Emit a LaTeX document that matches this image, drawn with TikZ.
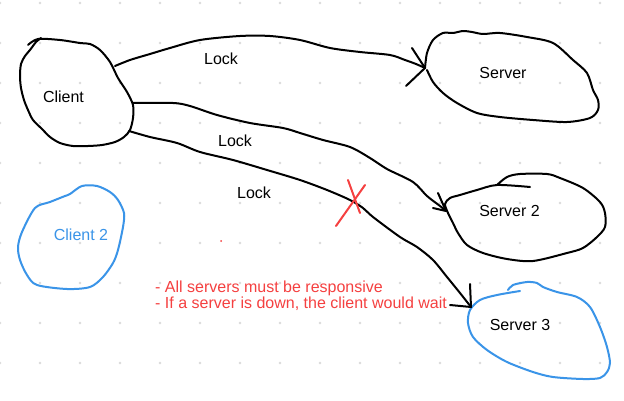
\documentclass[tikz,border=0pt]{standalone}
\usepackage{fontspec}
\setmainfont{Liberation Sans}
\definecolor{inkblue}{RGB}{58,148,232}
\definecolor{inkred}{RGB}{245,64,64}
\definecolor{gridgray}{RGB}{218,218,218}
\tikzset{
  ink/.style={line width=2pt, line cap=round, line join=round},
  blob/.style={ink, draw=black},
  bluebl/.style={ink, draw=inkblue},
  lbl/.style={font=\fontsize{16}{18}\selectfont, inner sep=0pt},
  note/.style={font=\fontsize{16}{16}\selectfont, text=inkred, inner sep=0pt, anchor=base west},
}
\begin{document}
\begin{tikzpicture}[x=1pt,y=-1pt]
\useasboundingbox (0,0) rectangle (624,401);
\fill[white] (0,0) rectangle (624,401);
% grid dots
\foreach \gx in {0,40,...,600}{
  \foreach \gy in {3,43,...,363}{
    \fill[gridgray] (\gx,\gy) circle (1.3);
  }
}
% named points on the shapes
\coordinate (cR1) at (115,66);
\coordinate (cR2) at (133,103);
\coordinate (cR3) at (129,131);
\coordinate (sIn) at (425,68);
\coordinate (s2In) at (446,211);
\coordinate (s3In) at (471,307);
% Client blob
\draw[blob] plot[smooth, tension=0.5] coordinates {(28,45) (38,39) (60,40) (80,43) (90,44) (100,50) (110,62) (118,78) (127,92) (133,105) (133,118) (130,130) (124,137) (115,142) (102,145) (88,146) (73,146) (60,143) (50,137) (42,129) (33,120) (28,110) (24,100) (21,88) (20,76) (21,64) (25,56) (30,50) (36,42) (41,38)};
% Server blob
\draw[blob] plot[smooth, tension=0.5] coordinates {(425,68) (427,53) (433,40) (443,33) (453,33) (463,31) (472,32) (483,34) (500,33) (527,37) (553,43) (573,60) (587,73) (593,90) (598,100) (598,110) (590,118) (567,122) (533,120) (500,117) (477,113) (457,103) (443,93) (433,82) (427,70)};
% Server 2 blob
\draw[blob] plot[smooth, tension=0.5] coordinates {(530,187) (497,185) (477,190) (460,195) (450,198) (445,204) (448,213) (453,223) (458,233) (467,245) (483,253) (507,259) (533,261) (567,253) (583,248) (597,237) (605,227) (605,213) (600,202) (583,188) (560,178) (547,174) (520,174) (507,177) (497,185)};
% Server 3 blob
\draw[bluebl] plot[smooth, tension=0.5] coordinates {(508,290) (513,285) (527,282) (537,283) (543,287) (557,292) (577,297) (590,307) (600,327) (607,347) (610,363) (607,372) (600,378) (583,379) (553,377) (533,372) (507,362) (487,350) (473,337) (468,323) (470,310) (480,300) (497,295) (520,291)};
% Client 2 blob
\draw[bluebl] plot[smooth, tension=0.5] coordinates {(65,196) (70,194) (82,186) (97,186) (110,192) (118,200) (124,213) (123,227) (118,250) (113,263) (103,277) (90,287) (67,289) (37,285) (27,275) (20,260) (18,247) (22,232) (35,208) (50,202) (65,196)};
% connectors
\draw[ink] plot[smooth, tension=0.5] coordinates {(cR1) (130,60) (150,54) (170,48) (200,40) (240,36) (270,36) (300,40) (330,48) (360,52) (390,55) (405,60) (416,64) (sIn)};
\draw[ink] (412,48) -- (sIn) -- (406,86);
\draw[ink] plot[smooth, tension=0.5] coordinates {(cR2) (173,103) (190,106) (217,115) (250,123) (283,128) (300,133) (323,140) (350,147) (370,158) (387,169) (413,182) (427,196) (440,206) (s2In)};
\draw[ink] (438,193) -- (s2In) -- (433,208);
\draw[ink] plot[smooth, tension=0.5] coordinates {(cR3) (150,137) (177,143) (200,152) (233,160) (267,170) (300,180) (327,190) (350,200) (363,208) (373,217) (400,237) (417,247) (433,260) (447,277) (460,293) (s3In)};
\draw[ink] (470,284) -- (s3In) -- (450,305);
% red cross
\draw[ink, draw=inkred] (348,180) -- (360,213);
\draw[ink, draw=inkred] (365,185) -- (336,226);
\fill[inkred] (221,241) circle (1);
% labels
\node[lbl] (client) at (63.5,97) {Client};
\node[lbl] (server) at (503,73) {Server};
\node[lbl] (server2) at (509.5,211) {Server 2};
\node[lbl] (server3) at (520,325) {Server 3};
\node[lbl, text=inkblue] (client2) at (81,235) {Client 2};
\node[lbl] (lock1) at (221,59) {Lock};
\node[lbl] (lock2) at (235,141) {Lock};
\node[lbl] (lock3) at (254,193) {Lock};
\node[note] (r1) at (155,292.7) {- All servers must be responsive};
\node[note] (r2) at (155,308.7) {- If a server is down, the client would wait};
\end{tikzpicture}
\end{document}
